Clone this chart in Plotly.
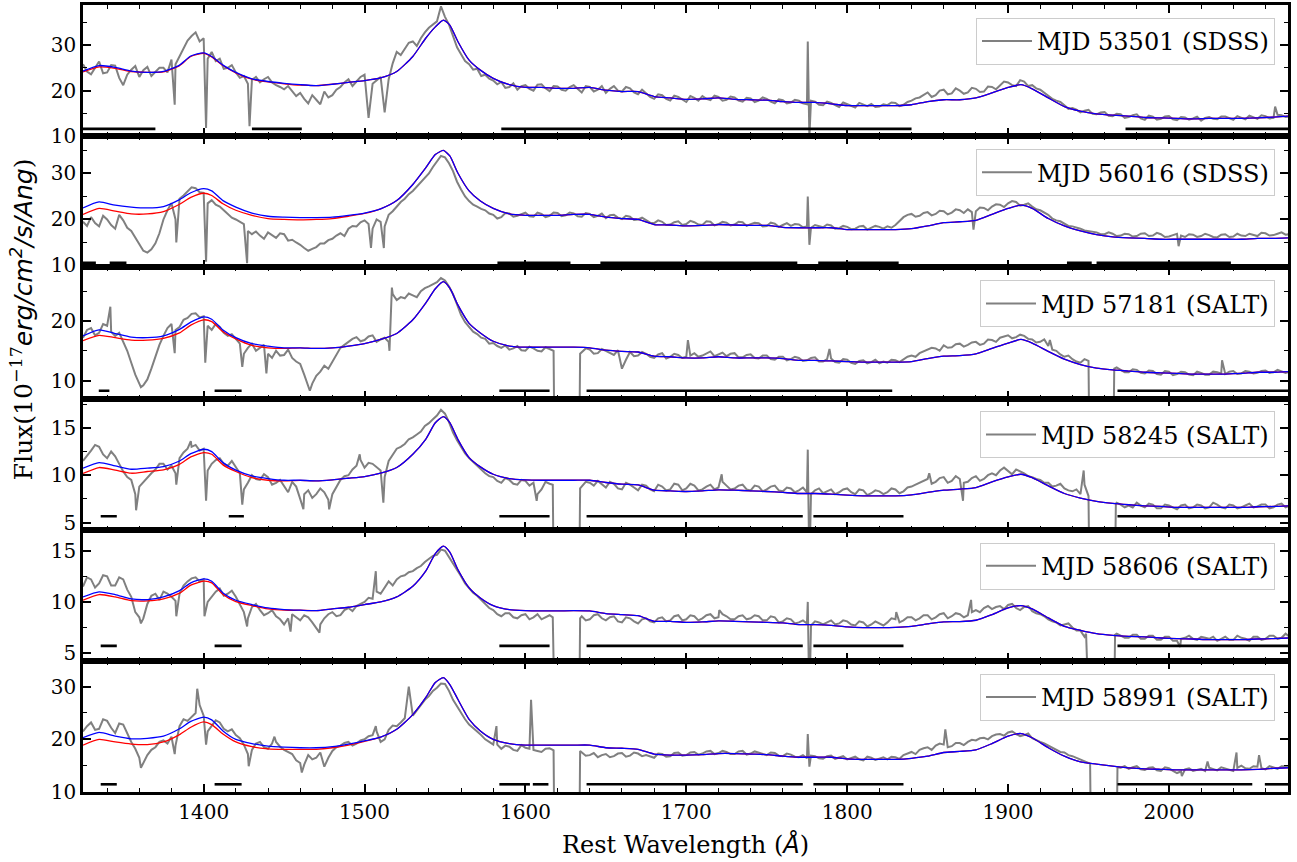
import plotly.graph_objects as go
from plotly.subplots import make_subplots

# ---------------- data ----------------
GRID = list(range(1325, 2080, 5))           # observed-spectrum sampling (Angstrom)
MID = [w + 2.5 for w in GRID[:-1]]          # in-between samples (1327.5 ... 2072.5)

MODEL_WL = [1325, 1335, 1345, 1355, 1365, 1375, 1385, 1392, 1400, 1405, 1412, 1420,
            1430, 1440, 1450, 1460, 1470, 1480, 1490, 1500, 1510, 1520, 1530,
            1538, 1544, 1549, 1553, 1558, 1565, 1572, 1580,
            1590, 1600, 1610, 1620, 1630, 1640, 1650, 1660, 1670, 1680, 1690, 1700,
            1710, 1720, 1730, 1740, 1750, 1760, 1770, 1780, 1790, 1800, 1810, 1820,
            1830, 1840, 1850, 1860, 1870, 1880, 1890, 1900, 1908, 1915,
            1925, 1935, 1945, 1955, 1965, 1975, 1985, 1995, 2005, 2015, 2025, 2035,
            2045, 2055, 2065, 2074]

LABELS = ["MJD 53501 (SDSS)", "MJD 56016 (SDSS)", "MJD 57181 (SALT)",
          "MJD 58245 (SALT)", "MJD 58606 (SALT)", "MJD 58991 (SALT)"]

GRAY_1 = [25.8, 23.6, 26.4, 24.0, 25.5, 21.2, 24.6, 23.0, 25.2, 24.0,
          25.0, 26.8, 27.5, 31.0, 32.8, 31.5, 28.5, 27.0, 25.0, 24.0,
          23.2, 22.4, 21.8, 23.0, 21.2, 20.3, 19.8, 19.5, 17.2, 18.0,
          19.8, 19.0, 20.8, 22.5, 22.0, 23.5, 21.5, 23.0, 22.5, 28.5,
          29.2, 30.8, 31.5, 33.8, 35.2, 36.2, 32.0, 28.0, 25.8, 24.8,
          23.5, 22.2, 21.9, 20.8, 20.2, 21.2, 20.0, 21.4, 19.9, 20.9,
          20.0, 21.2, 19.6, 20.8, 20.2, 19.5, 21.0, 19.8, 20.5, 19.2,
          19.5, 18.2, 19.0, 17.8, 18.6, 17.5, 18.4, 18.8, 17.9, 18.6,
          18.0, 18.5, 17.6, 18.3, 17.8, 18.2, 17.2, 17.9, 17.4, 17.8,
          17.0, 17.6, 16.8, 17.3, 16.4, 17.0, 16.3, 16.9, 17.1, 16.5,
          16.8, 17.3, 16.9, 17.8, 18.5, 19.6, 19.0, 20.2, 19.4, 20.0,
          19.6, 20.4, 19.8, 20.8, 21.2, 21.8, 21.0, 22.0, 21.2, 20.2,
          19.0, 17.8, 16.8, 16.2, 15.2, 15.8, 14.8, 15.3, 14.4, 14.8,
          14.2, 14.8, 13.6, 14.3, 13.8, 14.4, 13.5, 14.1, 13.9, 13.4,
          14.2, 13.7, 14.3, 13.6, 14.0, 14.5, 13.8, 14.4, 14.0, 14.6,
          14.3]
GRAY_MID_1 = [24.2, 25.0, 23.8, 25.6, 22.8, 23.5, 25.4, 24.5, 23.2, 25.0,
              24.0, 25.8, 29.5, 32.0, 30.8, 27.0, 26.5, 24.8, 25.6, 22.8,
              21.5, 23.0, 22.5, 21.8, 20.8, 21.0, 18.8, 18.2, 19.0, 17.0,
              18.5, 20.2, 21.8, 21.0, 23.0, 14.0, 22.2, 15.2, 26.0, 27.8,
              30.5, 29.8, 32.8, 34.5, 38.5, 34.5, 29.5, 26.5, 24.6, 23.2,
              22.6, 21.4, 20.6, 21.6, 21.0, 20.4, 21.3, 20.5, 21.0, 20.2,
              20.8, 20.3, 21.0, 19.8, 21.0, 20.4, 20.0, 20.8, 19.6, 20.2,
              18.6, 19.2, 18.2, 18.9, 18.0, 18.8, 17.8, 18.2, 18.9, 17.8,
              18.7, 17.8, 18.4, 17.5, 18.5, 17.6, 18.1, 17.2, 18.0, 17.2,
              17.8, 16.9, 17.6, 16.8, 17.4, 16.7, 17.3, 16.6, 16.4, 17.0,
              17.4, 16.6, 17.5, 18.3, 19.0, 18.6, 20.0, 19.2, 20.5, 19.3,
              20.6, 19.7, 20.9, 20.3, 22.0, 21.2, 22.3, 21.0, 20.5, 19.5,
              18.2, 17.5, 16.0, 15.8, 15.6, 14.9, 15.2, 14.5, 14.9, 14.0,
              14.6, 13.9, 14.5, 13.6, 14.3, 13.7, 14.2, 13.6, 14.3, 14.0,
              13.8, 14.3, 13.9, 14.4, 13.7, 14.1, 14.6, 13.9, 14.7, 14.2]

GRAY_2 = [19.5, 20.5, 18.5, 20.0, 18.0, 19.8, 17.5, 14.5, 12.8, 14.8,
          20.0, 23.5, 24.5, 26.0, 26.8, 25.8, 24.2, 22.8, 21.2, 20.0,
          19.0, 16.8, 16.5, 17.2, 16.0, 16.8, 15.6, 14.5, 13.2, 14.0,
          14.8, 15.8, 17.0, 18.0, 18.5, 19.8, 18.0, 19.5, 21.0, 22.8,
          24.5, 26.2, 28.0, 30.0, 32.5, 33.5, 30.5, 26.5, 24.0, 22.8,
          22.0, 21.0, 20.5, 21.3, 20.8, 21.5, 20.6, 21.2, 20.8, 21.4,
          20.9, 21.3, 20.6, 21.2, 20.8, 20.3, 21.0, 20.1, 20.6, 20.0,
          19.8, 19.2, 19.5, 18.9, 19.6, 19.0, 19.4, 18.8, 19.5, 19.0,
          19.3, 18.9, 19.4, 19.0, 19.2, 18.6, 19.1, 18.8, 18.6, 18.9,
          18.5, 18.8, 18.3, 18.7, 18.1, 18.4, 18.0, 18.6, 18.2, 18.4,
          18.5, 18.8, 20.5, 21.2, 20.8, 21.6, 21.2, 21.8, 21.5, 22.0,
          22.2, 21.8, 22.5, 22.8, 23.2, 23.5, 23.8, 23.2, 22.8, 22.0,
          21.0, 19.8, 19.0, 18.5, 18.0, 17.5, 17.2, 16.8, 16.9, 16.5,
          16.8, 16.4, 17.0, 16.5, 16.8, 16.3, 16.9, 16.2, 16.7, 16.4,
          16.6, 16.1, 16.8, 16.3, 16.5, 16.9, 16.4, 17.0, 16.6, 17.2,
          16.8]
GRAY_MID_2 = [18.6, 19.2, 20.8, 18.8, 21.0, 18.2, 16.0, 13.2, 13.5, 17.0,
              22.0, 20.0, 25.2, 27.0, 25.9, 23.5, 23.2, 22.0, 20.4, 19.5,
              17.5, 17.4, 15.8, 16.6, 17.0, 15.4, 15.0, 13.8, 13.6, 14.8,
              15.5, 16.5, 16.4, 18.6, 19.4, 19.0, 20.0, 18.5, 21.8, 23.8,
              25.5, 27.2, 29.2, 31.4, 33.8, 32.2, 28.2, 25.0, 23.2, 22.3,
              21.3, 20.2, 21.4, 20.6, 21.2, 20.7, 21.5, 20.5, 21.5, 20.7,
              21.5, 20.7, 21.4, 20.5, 21.3, 20.9, 20.4, 20.8, 19.9, 20.4,
              19.3, 19.8, 18.8, 19.4, 18.8, 19.7, 18.9, 19.6, 18.7, 19.5,
              18.7, 19.5, 18.6, 19.3, 18.5, 19.3, 18.4, 19.2, 19.0, 18.3,
              18.2, 18.6, 18.9, 18.0, 18.6, 17.9, 18.5, 17.8, 18.6, 18.0,
              18.2, 19.6, 21.0, 20.6, 21.4, 20.9, 21.9, 21.1, 22.2, 21.4,
              21.6, 22.6, 22.0, 23.3, 22.7, 24.0, 23.0, 23.5, 22.2, 21.5,
              20.2, 19.6, 18.6, 18.3, 17.6, 17.4, 16.8, 17.2, 16.4, 16.9,
              16.3, 16.9, 16.4, 17.1, 16.2, 16.6, 16.5, 16.8, 16.2, 16.9,
              16.2, 16.7, 16.2, 16.9, 16.4, 16.6, 17.1, 16.5, 16.9, 16.7]

GRAY_3 = [17.2, 18.8, 18.0, 19.2, 17.5, 16.5, 13.0, 9.5, 10.2, 14.0,
          17.5, 19.5, 19.0, 20.5, 21.3, 20.8, 18.5, 19.0, 17.5, 17.0,
          14.5, 16.2, 15.5, 14.5, 15.0, 14.3, 13.8, 12.8, 9.0, 10.8,
          12.5, 13.2, 15.5, 16.5, 17.3, 16.8, 17.6, 16.9, 16.5, 23.5,
          23.8, 24.3, 25.0, 25.8, 26.5, 26.8, 24.5, 21.0, 19.0, 17.8,
          17.0, 16.3, 15.5, 15.2, 15.8, 15.0, 15.4, 14.9, 15.3, 0.0,
          0.0, 0.0, 14.8, 15.2, 14.6, 15.0, 14.3, 12.0, 14.8, 14.2,
          14.5, 13.8, 14.6, 14.0, 14.3, 14.0, 14.6, 14.2, 14.9, 14.4,
          14.1, 14.6, 13.9, 14.4, 13.7, 14.2, 13.5, 14.0, 13.6, 13.8,
          13.4, 13.9, 13.2, 13.7, 13.0, 13.5, 12.8, 13.4, 13.1, 12.9,
          13.0, 13.4, 13.6, 14.2, 14.6, 15.1, 15.4, 15.9, 15.6, 16.2,
          16.0, 16.5, 16.2, 16.8, 17.2, 17.6, 17.3, 17.5, 16.9, 16.5,
          15.8, 15.0, 14.0, 13.6, 13.0, 13.3, 0.0, 0.0, 0.0, 11.8,
          11.4, 11.8, 11.2, 11.6, 11.0, 11.5, 11.1, 11.4, 10.9, 11.3,
          11.0, 11.4, 11.1, 11.6, 11.2, 11.5, 11.3, 11.7, 11.4, 11.6,
          11.5]
GRAY_MID_3 = [18.5, 17.6, 19.5, 18.2, 18.0, 15.0, 11.0, 9.2, 12.0, 16.0,
              18.8, 18.5, 20.2, 21.2, 20.6, 19.2, 19.5, 18.0, 17.8, 16.2,
              15.5, 15.0, 16.0, 13.8, 14.2, 15.2, 13.2, 11.0, 9.5, 11.5,
              12.0, 14.5, 16.0, 17.0, 16.6, 17.4, 16.5, 17.2, 24.5, 24.0,
              24.6, 24.0, 25.5, 26.2, 27.2, 25.8, 22.8, 19.8, 18.2, 17.2,
              16.2, 15.8, 15.9, 15.4, 15.1, 15.7, 15.0, 15.6, 15.0, 0.0,
              0.0, 0.0, 15.4, 14.5, 15.3, 14.6, 15.1, 13.5, 14.1, 14.8,
              14.0, 14.4, 13.7, 14.5, 13.8, 14.2, 14.0, 14.6, 14.1, 14.7,
              14.5, 13.9, 14.3, 13.8, 14.2, 13.6, 14.0, 13.4, 14.0, 13.3,
              13.8, 13.2, 13.6, 13.1, 13.6, 13.0, 13.3, 12.9, 13.5, 13.2,
              13.5, 13.1, 14.0, 14.0, 14.9, 15.5, 15.0, 15.5, 16.1, 15.7,
              16.4, 16.0, 16.9, 16.5, 17.4, 17.1, 17.7, 17.0, 16.4, 16.9,
              15.2, 14.4, 14.2, 13.2, 13.6, 0.0, 0.0, 0.0, 12.2, 11.4,
              11.9, 11.3, 11.7, 11.1, 11.6, 10.9, 11.5, 11.0, 11.5, 11.0,
              11.5, 11.2, 11.5, 11.1, 11.6, 11.2, 11.6, 11.3, 11.8, 11.3]

GRAY_4 = [11.5, 12.6, 13.0, 11.8, 12.0, 10.4, 9.5, 8.8, 9.8, 10.6,
          11.2, 11.0, 11.8, 12.8, 13.2, 12.8, 11.2, 11.8, 11.0, 10.8,
          8.5, 10.0, 9.5, 9.8, 9.2, 8.8, 9.3, 7.5, 8.4, 8.0,
          8.2, 8.0, 9.5, 10.0, 11.0, 10.8, 11.2, 10.5, 11.5, 12.8,
          13.3, 14.0, 14.6, 15.5, 16.3, 16.5, 14.5, 13.0, 11.8, 11.0,
          10.2, 9.8, 9.2, 9.5, 9.0, 9.4, 9.2, 8.5, 9.1, 0.0,
          0.0, 0.0, 8.8, 9.2, 9.4, 8.7, 9.1, 8.5, 9.0, 8.4,
          8.9, 8.3, 8.8, 8.5, 9.0, 8.6, 8.9, 8.5, 9.0, 8.7,
          8.9, 8.6, 9.0, 8.4, 8.8, 8.5, 8.9, 8.3, 8.6, 8.4,
          8.2, 8.4, 8.1, 8.5, 8.2, 8.6, 8.0, 8.4, 8.1, 8.3,
          8.2, 8.5, 8.3, 8.8, 9.2, 9.6, 9.3, 9.8, 9.4, 9.6,
          9.3, 9.9, 9.6, 10.2, 10.5, 10.4, 10.6, 10.2, 9.8, 9.5,
          9.2, 8.9, 8.6, 8.3, 8.0, 7.8, 0.0, 0.0, 0.0, 6.9,
          6.8, 7.1, 6.6, 6.9, 6.5, 6.8, 6.4, 6.9, 6.6, 6.8,
          6.6, 6.9, 6.5, 6.8, 6.6, 7.0, 6.7, 6.9, 6.6, 7.0,
          6.8]
GRAY_MID_4 = [12.0, 13.2, 12.2, 12.5, 11.2, 9.8, 8.0, 9.3, 10.2, 11.2,
              10.6, 10.2, 12.4, 13.0, 12.6, 10.5, 11.6, 11.2, 11.5, 10.2,
              9.2, 9.6, 10.1, 9.0, 9.5, 8.2, 8.8, 8.0, 7.6, 8.6,
              7.4, 8.8, 9.9, 10.6, 11.6, 11.3, 10.8, 9.8, 12.2, 13.0,
              13.8, 14.3, 15.2, 15.9, 16.9, 15.6, 13.7, 12.3, 11.4, 10.5,
              9.9, 9.4, 9.7, 9.1, 9.5, 8.9, 8.0, 9.3, 0.0, 0.0,
              0.0, 0.0, 9.3, 8.9, 9.0, 9.3, 8.6, 9.2, 8.7, 9.0,
              8.5, 9.0, 8.4, 9.1, 8.4, 9.1, 8.4, 8.8, 8.5, 9.3,
              8.5, 8.9, 8.5, 8.9, 8.3, 8.8, 8.4, 8.7, 8.2, 8.7,
              8.0, 8.6, 8.3, 8.0, 8.5, 8.2, 8.5, 7.9, 8.4, 8.0,
              8.6, 8.1, 8.7, 9.0, 9.4, 9.1, 9.7, 9.2, 9.9, 9.2,
              9.7, 9.4, 10.0, 10.0, 10.8, 10.1, 10.4, 9.9, 9.6, 9.2,
              8.8, 9.1, 8.4, 8.5, 9.0, 0.0, 0.0, 0.0, 7.1, 6.6,
              6.6, 6.8, 7.0, 6.5, 6.9, 6.6, 6.8, 6.5, 6.9, 6.5,
              7.1, 6.6, 6.9, 6.5, 6.8, 6.6, 6.9, 6.5, 6.9, 6.6]

GRAY_5 = [11.5, 12.2, 11.8, 12.5, 11.6, 12.2, 10.5, 8.5, 9.8, 10.8,
          11.0, 10.5, 10.8, 12.0, 12.4, 12.2, 10.5, 11.3, 10.8, 10.5,
          9.0, 9.5, 9.2, 8.9, 8.6, 7.8, 8.8, 8.2, 8.5, 7.4,
          8.4, 9.0, 8.7, 9.4, 9.6, 10.0, 10.3, 10.8, 12.0, 12.2,
          12.6, 13.0, 13.5, 14.2, 14.6, 15.0, 13.8, 12.5, 11.3, 10.6,
          9.8, 9.2, 8.6, 8.9, 8.4, 8.8, 8.5, 8.3, 8.7, 0.0,
          0.0, 0.0, 8.6, 8.3, 8.8, 8.2, 8.6, 8.0, 8.4, 7.9,
          8.4, 8.0, 8.5, 8.2, 8.7, 8.3, 8.6, 8.4, 8.8, 8.5,
          8.6, 8.3, 8.7, 8.4, 8.6, 8.2, 8.5, 8.1, 8.3, 8.0,
          7.9, 8.1, 7.8, 8.2, 7.9, 8.1, 7.7, 8.0, 7.8, 7.9,
          8.0, 8.3, 8.2, 8.5, 8.4, 8.7, 8.5, 8.9, 8.6, 8.8,
          8.7, 9.2, 9.4, 9.3, 9.6, 9.7, 9.4, 9.5, 9.1, 8.8,
          8.3, 8.0, 7.8, 7.5, 7.2, 0.0, 0.0, 0.0, 0.0, 6.7,
          6.5, 6.8, 6.4, 6.7, 6.3, 6.6, 6.2, 6.5, 6.4, 6.6,
          6.4, 6.2, 6.6, 6.3, 6.5, 6.2, 6.6, 6.4, 6.7, 6.5,
          6.6]
GRAY_MID_5 = [12.4, 11.4, 12.6, 11.6, 12.4, 11.2, 9.0, 8.4, 10.6, 10.2,
              10.8, 10.1, 11.6, 12.3, 12.0, 10.0, 11.0, 10.6, 11.1, 9.8,
              8.4, 9.8, 8.7, 9.2, 8.3, 8.4, 8.5, 8.7, 8.0, 7.8,
              8.8, 8.6, 9.2, 9.1, 9.8, 10.4, 11.0, 11.4, 11.6, 12.5,
              12.9, 13.3, 13.9, 14.5, 15.1, 14.4, 13.1, 11.8, 10.9, 10.2,
              9.4, 8.8, 8.9, 8.5, 8.7, 8.3, 8.8, 8.5, 0.0, 0.0,
              0.0, 0.0, 8.2, 8.7, 8.4, 8.5, 8.1, 8.5, 8.1, 8.3,
              8.1, 8.4, 8.1, 8.6, 8.2, 8.7, 8.2, 8.7, 8.4, 8.8,
              8.3, 8.6, 8.3, 8.7, 8.2, 8.6, 8.0, 8.4, 7.9, 8.2,
              7.7, 8.0, 8.0, 7.8, 8.2, 7.8, 8.1, 7.6, 8.1, 7.7,
              8.4, 8.0, 8.5, 8.2, 8.7, 8.3, 8.8, 8.4, 8.9, 8.5,
              9.0, 9.0, 9.6, 9.5, 9.3, 9.8, 9.2, 9.6, 8.9, 8.6,
              8.1, 7.7, 7.9, 7.2, 6.6, 0.0, 0.0, 0.0, 6.9, 6.5,
              6.8, 6.4, 6.7, 6.3, 6.6, 6.2, 6.4, 6.7, 6.3, 6.5,
              6.6, 6.4, 6.3, 6.7, 6.4, 6.6, 6.3, 6.7, 6.4, 6.9]

GRAY_6 = [21.5, 23.2, 22.0, 23.5, 21.2, 22.8, 19.5, 16.5, 17.0, 18.5,
          19.8, 20.5, 22.5, 23.5, 25.0, 24.5, 22.5, 23.2, 21.5, 20.8,
          19.0, 18.0, 19.5, 18.2, 19.5, 18.0, 17.2, 15.5, 17.0, 16.5,
          14.8, 17.8, 18.8, 19.5, 19.2, 20.0, 20.8, 19.5, 21.8, 22.5,
          24.0, 24.5, 26.5, 28.2, 29.8, 30.5, 27.5, 25.0, 22.8, 21.5,
          20.0, 19.0, 18.2, 18.6, 17.8, 18.4, 18.0, 17.6, 18.3, 0.0,
          0.0, 0.0, 17.5, 17.0, 16.6, 17.2, 16.8, 17.4, 16.9, 17.3,
          17.0, 16.5, 17.2, 16.8, 17.5, 17.0, 17.6, 17.3, 17.8, 17.4,
          17.6, 17.2, 17.8, 17.3, 17.5, 17.0, 17.4, 16.8, 17.1, 16.6,
          16.4, 16.8, 16.3, 16.9, 16.5, 16.2, 16.7, 16.0, 16.5, 16.3,
          16.2, 16.6, 17.0, 17.6, 18.0, 18.5, 18.8, 19.0, 18.7, 19.3,
          19.5, 19.8, 20.3, 20.6, 21.0, 21.3, 21.0, 20.8, 20.2, 19.5,
          18.8, 18.0, 17.5, 16.8, 16.2, 15.6, 0.0, 0.0, 0.0, 14.6,
          14.4, 14.9, 14.2, 14.7, 14.0, 14.5, 13.6, 14.3, 14.0, 14.4,
          14.6, 14.1, 14.5, 14.0, 15.0, 14.4, 14.8, 14.3, 14.7, 14.9,
          14.8]
GRAY_MID_6 = [22.5, 21.8, 23.8, 22.2, 23.0, 21.0, 18.2, 15.5, 18.0, 19.5,
              19.2, 18.8, 23.8, 24.2, 26.5, 21.5, 23.6, 22.0, 21.9, 20.2,
              17.2, 19.2, 18.5, 19.2, 18.6, 17.6, 16.0, 15.2, 16.2, 17.5,
              16.5, 18.5, 19.3, 18.8, 19.8, 20.6, 21.5, 20.0, 22.6, 23.2,
              30.0, 25.5, 27.5, 29.2, 30.6, 29.2, 26.2, 23.8, 22.2, 20.8,
              19.5, 19.0, 18.8, 18.0, 18.9, 18.2, 17.8, 18.2, 17.9, 0.0,
              0.0, 0.0, 16.9, 17.4, 17.0, 16.6, 17.3, 16.7, 17.5, 16.8,
              16.7, 17.3, 16.7, 17.4, 16.9, 17.5, 17.1, 17.7, 17.2, 17.8,
              17.2, 17.7, 17.1, 17.7, 17.2, 17.5, 16.9, 17.3, 16.7, 17.0,
              16.9, 16.4, 16.8, 16.3, 16.8, 16.5, 16.2, 16.7, 16.1, 16.6,
              16.7, 16.3, 17.3, 17.2, 18.3, 18.0, 19.2, 18.5, 19.3, 18.9,
              19.9, 20.2, 20.0, 20.9, 20.7, 21.5, 20.6, 21.1, 19.8, 19.2,
              18.3, 17.6, 17.0, 16.5, 15.8, 0.0, 0.0, 0.0, 0.0, 14.9,
              14.7, 14.3, 14.6, 14.1, 14.7, 14.0, 13.9, 14.5, 14.2, 14.0,
              14.3, 14.7, 14.2, 14.6, 14.5, 14.9, 14.5, 14.9, 14.4, 14.8]

# narrow features (absorption dips, sky-line residuals, chip gaps)
SPIKES_1 = [(1382, 16.9), (1401.5, 11.8), (1428.5, 12.2), (1775.5, 30.8), (1776.5, 9.8),
            (2066, 16.5)]
SPIKES_2 = [(1383, 15.0), (1401.5, 10.8), (1427, 10.5), (1504, 13.8), (1512, 13.8),
            (1775.5, 25.0), (1776.5, 14.5), (1878.5, 17.8), (2006, 14.2)]
SPIKES_3 = [(1342, 22.4), (1361, 8.9), (1382, 14.6), (1401, 13.0), (1424, 12.3),
            (1439, 11.2), (1466, 8.3), (1515.5, 15.0), (1517, 25.6), (1618, 0.0),
            (1633.5, 0.0), (1634, 14.5), (1701, 16.8), (1789, 15.3), (1926, 16.8),
            (1950.5, 0.0), (1965.5, 0.0), (1966, 12.0), (2033, 13.4)]
SPIKES_4 = [(1358, 6.3), (1383, 9.0), (1392, 13.6), (1401.5, 7.3), (1424, 6.9),
            (1462, 6.4), (1478, 6.4), (1497, 12.2), (1511.7, 7.1), (1607, 7.3),
            (1617, 9.0), (1618, 0.0), (1633.5, 0.0), (1634, 8.6), (1722, 10.1),
            (1775.5, 12.7), (1776.5, 0.0), (1851, 10.2), (1872, 7.3), (1947, 10.5),
            (1950.5, 0.0), (1966.5, 0.0), (1967, 7.0)]
SPIKES_5 = [(1361, 7.9), (1383, 8.6), (1400.5, 8.6), (1427, 7.6), (1454, 7.1),
            (1472, 7.0), (1507, 13.0), (1617, 8.5), (1618, 0.0), (1633.5, 0.0),
            (1634, 8.4), (1720.5, 9.2), (1775.5, 10.0), (1776.5, 0.0), (1830.5, 9.0),
            (1877, 10.2), (1948.5, 6.9), (1949, 0.0), (1966, 0.0), (1966.5, 6.8),
            (2007, 5.6)]
SPIKES_6 = [(1361, 14.6), (1382, 17.2), (1396, 29.6), (1401.5, 19.0), (1428, 14.9),
            (1444, 20.5), (1461, 13.7), (1507, 22.5), (1582, 22.5), (1603.5, 27.5),
            (1617, 18.0), (1618, 0.0), (1633.5, 0.0), (1634, 17.8), (1775.5, 21.0),
            (1776.5, 14.8), (1861, 21.9), (1951, 15.4), (1951.5, 0.0), (1968, 14.7),
            (2008, 13.0), (2024, 15.8), (2042, 17.5), (2056, 17.0)]

BLUE_1 = [24.3, 25.5, 25.1, 24.3, 24.0, 24.2, 25.6, 27.6, 28.3, 27.5, 25.6, 24.0,
          22.6, 22.0, 21.6, 21.3, 21.1, 21.4, 21.8, 22.2, 22.8, 24.2, 27.5,
          31.5, 34.0, 35.5, 34.4, 30.8, 26.7, 24.5, 22.7,
          21.3, 20.7, 20.7, 20.5, 20.5, 20.7, 20.1, 19.8, 19.8, 18.7, 18.4, 18.1,
          18.2, 18.4, 18.1, 18.0, 17.9, 17.6, 17.4, 17.4, 17.1, 16.7, 16.7, 16.7,
          16.7, 16.9, 17.6, 18.0, 18.0, 18.4, 19.5, 20.7, 21.3, 20.4,
          18.4, 16.5, 15.5, 14.9, 14.6, 14.4, 14.1, 14.0, 13.9, 13.8, 13.9, 13.9,
          13.9, 14.0, 14.2, 14.4]
BLUE_2 = [22.5, 23.8, 23.1, 22.7, 22.5, 22.8, 24.3, 25.8, 26.7, 26.2, 24.1, 22.7,
          21.4, 20.7, 20.5, 20.4, 20.4, 20.5, 20.9, 21.4, 22.3, 24.1, 27.6,
          31.2, 34.1, 35.0, 33.8, 30.1, 26.2, 24.0, 22.4,
          21.2, 20.9, 20.9, 20.9, 21.1, 21.1, 20.5, 20.2, 20.0, 18.9, 18.8, 18.6,
          18.7, 18.9, 18.8, 18.7, 18.7, 18.3, 18.2, 18.2, 18.2, 17.8, 17.8, 17.8,
          17.8, 18.0, 18.6, 19.3, 19.5, 19.8, 21.1, 22.4, 23.1, 22.4,
          20.2, 18.6, 17.5, 16.7, 16.2, 16.0, 15.9, 15.7, 15.7, 15.7, 15.7, 15.7,
          15.7, 15.9, 15.9, 16.0]
BLUE_3 = [17.5, 18.5, 17.9, 17.3, 17.2, 17.5, 18.6, 19.8, 20.7, 20.3, 18.5, 17.2,
          16.2, 15.8, 15.5, 15.5, 15.4, 15.5, 15.8, 16.2, 16.9, 17.9, 20.2,
          23.0, 25.4, 26.6, 25.5, 22.7, 19.6, 18.0, 16.6,
          15.8, 15.6, 15.6, 15.6, 15.6, 15.5, 15.1, 14.9, 14.8, 14.1, 14.0, 13.8,
          13.8, 14.0, 13.8, 13.8, 13.8, 13.7, 13.4, 13.4, 13.3, 13.2, 13.1, 13.1,
          13.1, 13.2, 13.7, 14.1, 14.2, 14.5, 15.4, 16.3, 16.9, 16.3,
          14.9, 13.6, 12.7, 12.1, 11.8, 11.6, 11.4, 11.3, 11.2, 11.1, 11.1, 11.1,
          11.2, 11.4, 11.4, 11.5]
BLUE_4 = [10.74, 11.33, 10.98, 10.63, 10.74, 10.91, 11.5, 12.28, 12.74, 12.49, 11.33, 10.53,
          9.93, 9.65, 9.47, 9.47, 9.40, 9.51, 9.68, 9.86, 10.21, 10.81, 12.21,
          13.79, 15.54, 16.18, 15.54, 13.79, 11.86, 10.88, 10.1,
          9.65, 9.51, 9.47, 9.47, 9.47, 9.47, 9.23, 9.05, 8.98, 8.42, 8.35, 8.28,
          8.35, 8.46, 8.42, 8.35, 8.28, 8.18, 8.07, 8.07, 8.0, 7.89, 7.82, 7.82,
          7.82, 7.93, 8.18, 8.42, 8.53, 8.70, 9.30, 9.82, 10.1, 9.75,
          8.88, 8.07, 7.58, 7.23, 7.02, 6.88, 6.77, 6.70, 6.60, 6.60, 6.60, 6.60,
          6.60, 6.67, 6.70, 6.77]
BLUE_5 = [10.49, 10.98, 10.72, 10.29, 10.23, 10.49, 11.1, 11.86, 12.25, 12.02, 10.88, 10.16,
          9.74, 9.41, 9.25, 9.19, 9.15, 9.32, 9.48, 9.74, 10.0, 10.49, 11.53,
          13.0, 14.72, 15.44, 14.85, 13.16, 11.37, 10.39, 9.64,
          9.25, 9.15, 9.12, 9.12, 9.15, 9.12, 8.86, 8.76, 8.66, 8.11, 8.11, 8.01,
          8.05, 8.14, 8.11, 8.05, 8.01, 7.95, 7.79, 7.79, 7.72, 7.56, 7.49, 7.49,
          7.52, 7.62, 7.85, 8.05, 8.08, 8.21, 8.76, 9.41, 9.64, 9.32,
          8.44, 7.62, 7.23, 6.91, 6.74, 6.64, 6.58, 6.48, 6.42, 6.38, 6.32, 6.32,
          6.32, 6.38, 6.42, 6.48]
BLUE_6 = [20.3, 21.3, 20.6, 20.1, 20.2, 20.6, 22.0, 23.4, 24.2, 23.7, 21.6, 20.0,
          19.2, 18.7, 18.5, 18.4, 18.4, 18.6, 19.1, 19.7, 20.4, 21.9, 24.7,
          27.9, 30.8, 31.7, 30.4, 27.6, 23.8, 21.6, 20.0,
          19.2, 18.9, 18.9, 18.9, 18.9, 18.9, 18.4, 18.3, 18.1, 17.2, 17.0, 17.0,
          17.1, 17.3, 17.3, 17.2, 17.1, 16.8, 16.6, 16.6, 16.6, 16.3, 16.2, 16.2,
          16.2, 16.4, 16.8, 17.5, 17.7, 18.0, 19.2, 20.6, 21.1, 20.3,
          18.4, 16.8, 15.7, 15.3, 14.9, 14.6, 14.4, 14.3, 14.2, 14.2, 14.2, 14.2,
          14.2, 14.3, 14.5, 14.6]

# red model: blue-end part (1325-1500 A); redward it coincides with the blue model
RED_HEAD_1 = [24.1, 25.2, 24.9, 24.2, 24.0, 24.1, 25.5, 27.5, 28.2, 27.4, 25.5, 23.9,
              22.5, 21.9, 21.5, 21.2, 21.1, 21.4, 21.8, 22.2]
RED_HEAD_2 = [21.1, 22.4, 21.8, 21.2, 21.2, 21.7, 23.3, 24.8, 25.7, 25.2, 23.4, 22.0,
              20.9, 20.2, 20.0, 19.9, 20.0, 20.2, 20.7, 21.3]
RED_HEAD_3 = [16.7, 17.6, 17.2, 16.8, 16.8, 17.1, 18.0, 19.3, 20.2, 19.9, 18.2, 17.0,
              15.9, 15.5, 15.4, 15.5, 15.4, 15.5, 15.8, 16.2]
RED_HEAD_4 = [10.18, 10.81, 10.53, 10.21, 10.39, 10.56, 11.15, 11.93, 12.39, 12.21, 11.09, 10.39,
              9.75, 9.47, 9.40, 9.45, 9.40, 9.51, 9.68, 9.86]
RED_HEAD_5 = [10.16, 10.72, 10.49, 10.13, 10.10, 10.29, 10.85, 11.63, 12.02, 11.86, 10.72, 10.03,
              9.64, 9.32, 9.19, 9.19, 9.15, 9.32, 9.48, 9.74]
RED_HEAD_6 = [18.9, 20.0, 19.5, 19.1, 19.0, 19.5, 20.9, 22.3, 23.3, 22.8, 21.0, 19.5,
              18.6, 18.2, 18.1, 18.1, 18.1, 18.4, 18.9, 19.6]

# continuum windows (black bars)
WINDOWS_1 = [(1325, 1370), (1430, 1461), (1585, 1840), (1973, 2074)]
WINDOWS_2 = [(1325, 1333), (1341.6, 1352), (1582.6, 1628), (1646.6, 1769), (1782, 1832),
             (1936.6, 1952), (1955, 2038.5)]
WINDOWS_3 = [(1334.8, 1341.4), (1406.8, 1423.6), (1583.8, 1615), (1638, 1828), (1968, 2074)]
WINDOWS_4 = [(1336, 1346), (1415.6, 1425), (1583.8, 1615), (1638, 1772.4), (1779, 1835),
             (1968, 2074)]
WINDOWS_5 = [(1336, 1346), (1406.8, 1423.6), (1583.8, 1615), (1638, 1772.4), (1779, 1835),
             (1968, 2074)]
WINDOWS_6 = [(1336, 1346), (1406.8, 1423.6), (1583.8, 1602.8), (1604.6, 1614.3), (1638, 1772.4),
             (1779, 1835), (1968, 2051.8), (2059.6, 2074)]
WINDOW_LEVEL = [11.6, 10.6, 8.3, 5.67, 5.71, 11.46]

Y_RANGES = [[10, 38.8], [9.6, 38.1], [7.0, 29.0], [4.25, 18.1], [4.25, 17.05], [10, 34.9]]
Y_DTICK = [10, 10, 10, 5, 5, 10]
X_RANGE = [1325, 2074]

GRAYS = [GRAY_1, GRAY_2, GRAY_3, GRAY_4, GRAY_5, GRAY_6]
GRAY_MIDS = [GRAY_MID_1, GRAY_MID_2, GRAY_MID_3, GRAY_MID_4, GRAY_MID_5, GRAY_MID_6]
SPIKES = [SPIKES_1, SPIKES_2, SPIKES_3, SPIKES_4, SPIKES_5, SPIKES_6]
BLUES = [BLUE_1, BLUE_2, BLUE_3, BLUE_4, BLUE_5, BLUE_6]
RED_HEADS = [RED_HEAD_1, RED_HEAD_2, RED_HEAD_3, RED_HEAD_4, RED_HEAD_5, RED_HEAD_6]
WINDOWS = [WINDOWS_1, WINDOWS_2, WINDOWS_3, WINDOWS_4, WINDOWS_5, WINDOWS_6]

# ---------------- figure ----------------
SERIF = "DejaVu Serif"
W, H = 1297, 862
ML, MR, MT, MB = 83, 9, 3, 70
PLOT_H = H - MT - MB
PLOT_W = W - ML - MR

fig = make_subplots(rows=6, cols=1, shared_xaxes=True, vertical_spacing=0)

for i in range(6):
    row = i + 1
    legend_name = "legend" if i == 0 else f"legend{i + 1}"
    pts = sorted(list(zip(GRID, GRAYS[i])) + list(zip(MID, GRAY_MIDS[i])) + list(SPIKES[i]))
    gx = [p[0] for p in pts]
    gy = [p[1] for p in pts]
    fig.add_trace(go.Scatter(x=gx, y=gy, mode="lines", name=LABELS[i],
                             line=dict(color="#808080", width=2),
                             legend=legend_name, showlegend=True), row=row, col=1)
    red = RED_HEADS[i] + BLUES[i][len(RED_HEADS[i]):]
    fig.add_trace(go.Scatter(x=MODEL_WL, y=red, mode="lines",
                             line=dict(color="#ff0000", width=1.3, shape="spline", smoothing=0.6),
                             showlegend=False), row=row, col=1)
    fig.add_trace(go.Scatter(x=MODEL_WL, y=BLUES[i], mode="lines",
                             line=dict(color="#0000ff", width=1.3, shape="spline", smoothing=0.6),
                             showlegend=False), row=row, col=1)
    wx, wy = [], []
    for a, b in WINDOWS[i]:
        wx += [a, b, None]
        wy += [WINDOW_LEVEL[i], WINDOW_LEVEL[i], None]
    fig.add_trace(go.Scatter(x=wx, y=wy, mode="lines",
                             line=dict(color="black", width=2.6),
                             showlegend=False), row=row, col=1)

    fig.update_yaxes(row=row, col=1, range=Y_RANGES[i], tick0=0, dtick=Y_DTICK[i],
                     ticks="inside", ticklen=8, tickwidth=1.5, tickcolor="black",
                     minor=dict(ticks="inside", ticklen=4, tickwidth=1.2, tickcolor="black",
                                dtick=Y_DTICK[i] / 2, tick0=0),
                     showline=True, linewidth=2.5, linecolor="black", mirror="allticks",
                     showgrid=False, zeroline=False,
                     tickfont=dict(family=SERIF, size=20, color="black"))
    fig.update_xaxes(row=row, col=1, range=X_RANGE, tick0=1400, dtick=100,
                     ticks="inside", ticklen=8, tickwidth=1.5, tickcolor="black",
                     minor=dict(ticks="inside", ticklen=4, tickwidth=1.2, tickcolor="black",
                                dtick=20, tick0=1400),
                     showline=True, linewidth=2.5, linecolor="black", mirror="allticks",
                     showgrid=False, zeroline=False,
                     tickfont=dict(family=SERIF, size=20, color="black"))

    top = 1 - i / 6.0
    fig.update_layout(**{legend_name: dict(
        x=(1275 - ML) / PLOT_W, xanchor="right", y=top - 13.0 / PLOT_H, yanchor="top",
        bgcolor="rgba(255,255,255,0.8)", bordercolor="#cccccc", borderwidth=1,
        font=dict(family=SERIF, size=24, color="black"), itemwidth=50,
        tracegroupgap=0)})

fig.add_annotation(
    text="Flux(10<sup>\u221217</sup><span style='font-family:DejaVu Sans'><i>erg/cm<sup>2</sup>/s/Ang</i></span>)",
    xref="paper", yref="paper", x=(22 - ML) / PLOT_W, y=(H - MB - 318) / PLOT_H,
    xanchor="center", yanchor="middle", textangle=-90, showarrow=False,
    font=dict(family=SERIF, size=25, color="black"))
fig.add_annotation(
    text="Rest Wavelength (<span style='font-family:DejaVu Sans'><i>\u00c5</i></span>)",
    xref="paper", yref="paper", x=0.5, y=(H - MB - 845) / PLOT_H,
    xanchor="center", yanchor="middle", showarrow=False,
    font=dict(family=SERIF, size=24, color="black"))

fig.update_layout(width=W, height=H,
                  margin=dict(l=ML, r=MR, t=MT, b=MB),
                  paper_bgcolor="white", plot_bgcolor="white")

fig.write_html("out.html", config={"displayModeBar": False},
               post_script="document.body.style.margin='0';document.body.style.overflow='hidden';")
